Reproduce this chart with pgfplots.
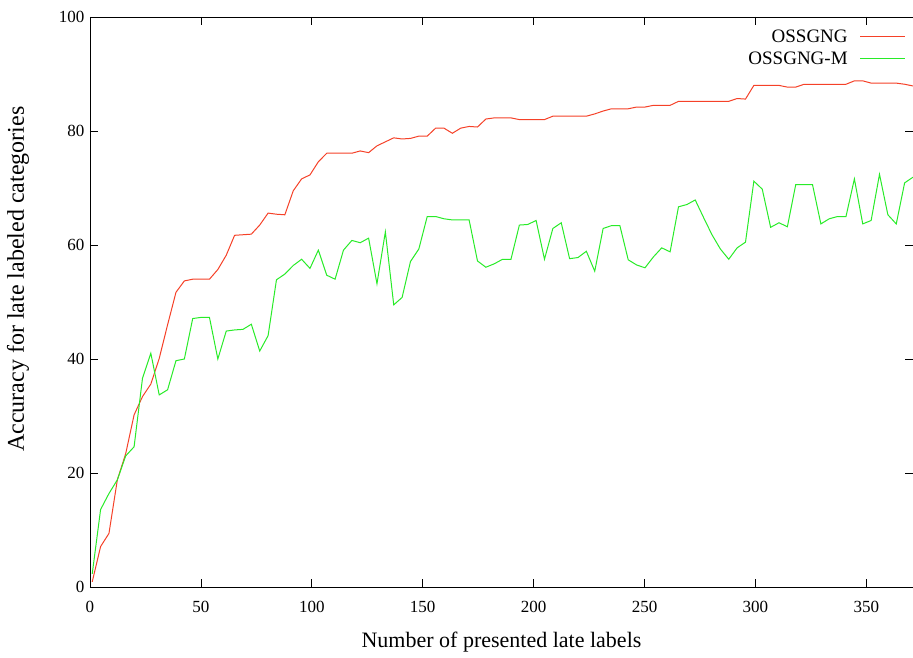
\documentclass[border=0pt]{standalone}
\usepackage{fontspec}
\setmainfont{Liberation Serif}
\usepackage{pgfplots}
\usepackage{pgfplotstable}
\pgfplotsset{compat=1.18}
\usetikzlibrary{calc}
\definecolor{cred}{RGB}{245,65,40}
\definecolor{cgreen}{RGB}{40,235,40}

\pgfplotstableread{
x y
1.00 0.9
4.78 7.1
8.55 9.4
12.33 18.8
16.10 23.4
19.88 30.2
23.66 33.4
27.43 35.6
31.21 40.1
34.98 46.0
38.76 51.7
42.54 53.7
46.31 54.0
50.09 54.0
53.86 54.0
57.64 55.7
61.42 58.2
65.19 61.7
68.97 61.8
72.74 61.9
76.52 63.5
80.30 65.6
84.07 65.4
87.85 65.3
91.62 69.5
95.40 71.6
99.18 72.3
102.95 74.6
106.73 76.1
110.50 76.1
114.28 76.1
118.06 76.1
121.83 76.5
125.61 76.2
129.38 77.4
133.16 78.1
136.94 78.8
140.71 78.6
144.49 78.7
148.26 79.1
152.04 79.1
155.82 80.5
159.59 80.5
163.37 79.6
167.14 80.5
170.92 80.8
174.70 80.7
178.47 82.1
182.25 82.3
186.02 82.3
189.80 82.3
193.58 82.0
197.35 82.0
201.13 82.0
204.90 82.0
208.68 82.6
212.46 82.6
216.23 82.6
220.01 82.6
223.78 82.6
227.56 83.0
231.34 83.5
235.11 83.9
238.89 83.9
242.66 83.9
246.44 84.2
250.22 84.2
253.99 84.5
257.77 84.5
261.54 84.5
265.32 85.2
269.10 85.2
272.87 85.2
276.65 85.2
280.42 85.2
284.20 85.2
287.98 85.2
291.75 85.7
295.53 85.6
299.30 88.0
303.08 88.0
306.86 88.0
310.63 88.0
314.41 87.7
318.18 87.7
321.96 88.2
325.74 88.2
329.51 88.2
333.29 88.2
337.06 88.2
340.84 88.2
344.62 88.8
348.39 88.8
352.17 88.4
355.94 88.4
359.72 88.4
363.50 88.4
367.27 88.2
371.05 87.9
}\redtable

\pgfplotstableread{
x y
1.00 2.3
4.78 13.6
8.55 16.4
12.33 18.8
16.10 23.0
19.88 24.6
23.66 36.6
27.43 41.0
31.21 33.7
34.98 34.6
38.76 39.7
42.54 40.0
46.31 47.1
50.09 47.3
53.86 47.3
57.64 40.0
61.42 44.9
65.19 45.1
68.97 45.2
72.74 46.1
76.52 41.4
80.30 44.1
84.07 53.9
87.85 54.9
91.62 56.4
95.40 57.5
99.18 55.9
102.95 59.1
106.73 54.7
110.50 54.0
114.28 59.1
118.06 60.8
121.83 60.4
125.61 61.2
129.38 53.2
133.16 62.3
136.94 49.5
140.71 50.8
144.49 57.1
148.26 59.3
152.04 65.0
155.82 65.0
159.59 64.6
163.37 64.4
167.14 64.4
170.92 64.4
174.70 57.2
178.47 56.1
182.25 56.7
186.02 57.5
189.80 57.5
193.58 63.5
197.35 63.6
201.13 64.3
204.90 57.5
208.68 62.9
212.46 63.9
216.23 57.6
220.01 57.8
223.78 58.9
227.56 55.4
231.34 62.9
235.11 63.4
238.89 63.4
242.66 57.4
246.44 56.5
250.22 56.0
253.99 57.9
257.77 59.5
261.54 58.8
265.32 66.7
269.10 67.1
272.87 67.9
276.65 64.8
280.42 61.8
284.20 59.3
287.98 57.5
291.75 59.5
295.53 60.5
299.30 71.2
303.08 69.8
306.86 63.1
310.63 63.9
314.41 63.2
318.18 70.6
321.96 70.6
325.74 70.6
329.51 63.7
333.29 64.6
337.06 65.0
340.84 65.0
344.62 71.6
348.39 63.7
352.17 64.3
355.94 72.4
359.72 65.3
363.50 63.7
367.27 70.9
371.05 71.9
}\greentable

\begin{document}
\begin{tikzpicture}
\begin{axis}[
  scale only axis,
  width=823pt, height=570pt,
  xmin=0, xmax=371.05, ymin=0, ymax=100,
  xtick={0,50,...,350}, ytick={0,20,...,100},
  tick align=inside,
  major tick length=8pt,
  tick style={black, line width=0.8pt},
  axis line style={black, line width=0.8pt},
  /pgf/number format/assume math mode=true,
  ticklabel style={font=\fontsize{17}{20}\selectfont},
  xticklabel style={anchor=center, yshift=-20pt},
  yticklabel style={anchor=east, xshift=-2pt},
  xlabel={Number of presented late labels},
  ylabel={Accuracy for late labeled categories},
  xlabel style={font=\fontsize{22}{26}\selectfont, at={(rel axis cs:0.5,0)}, anchor=center, yshift=-55pt},
  ylabel style={font=\fontsize{24}{28}\selectfont, at={(rel axis cs:0,0.54)}, anchor=center, rotate=0, yshift=72pt},
  legend plot pos=right,
  legend cell align=right,
  legend style={draw=none, fill=none, at={(rel axis cs:0.995,0.985)}, anchor=north east,
    font=\fontsize{19}{22}\selectfont, row sep=4pt, column sep=10pt},
  legend image code/.code={\draw[#1] (0pt,0pt) -- (45pt,0pt);},
]
\addplot[cred, line width=1pt] table[x=x, y=y] {\redtable};
\addlegendentry{OSSGNG}
\addplot[cgreen, line width=1pt] table[x=x, y=y] {\greentable};
\addlegendentry{OSSGNG-M}
\end{axis}
\pgfresetboundingbox
\path ($(current axis.south west)+(-90pt,-70pt)$) rectangle ($(current axis.north east)+(0pt,17pt)$);
\end{tikzpicture}
\end{document}
